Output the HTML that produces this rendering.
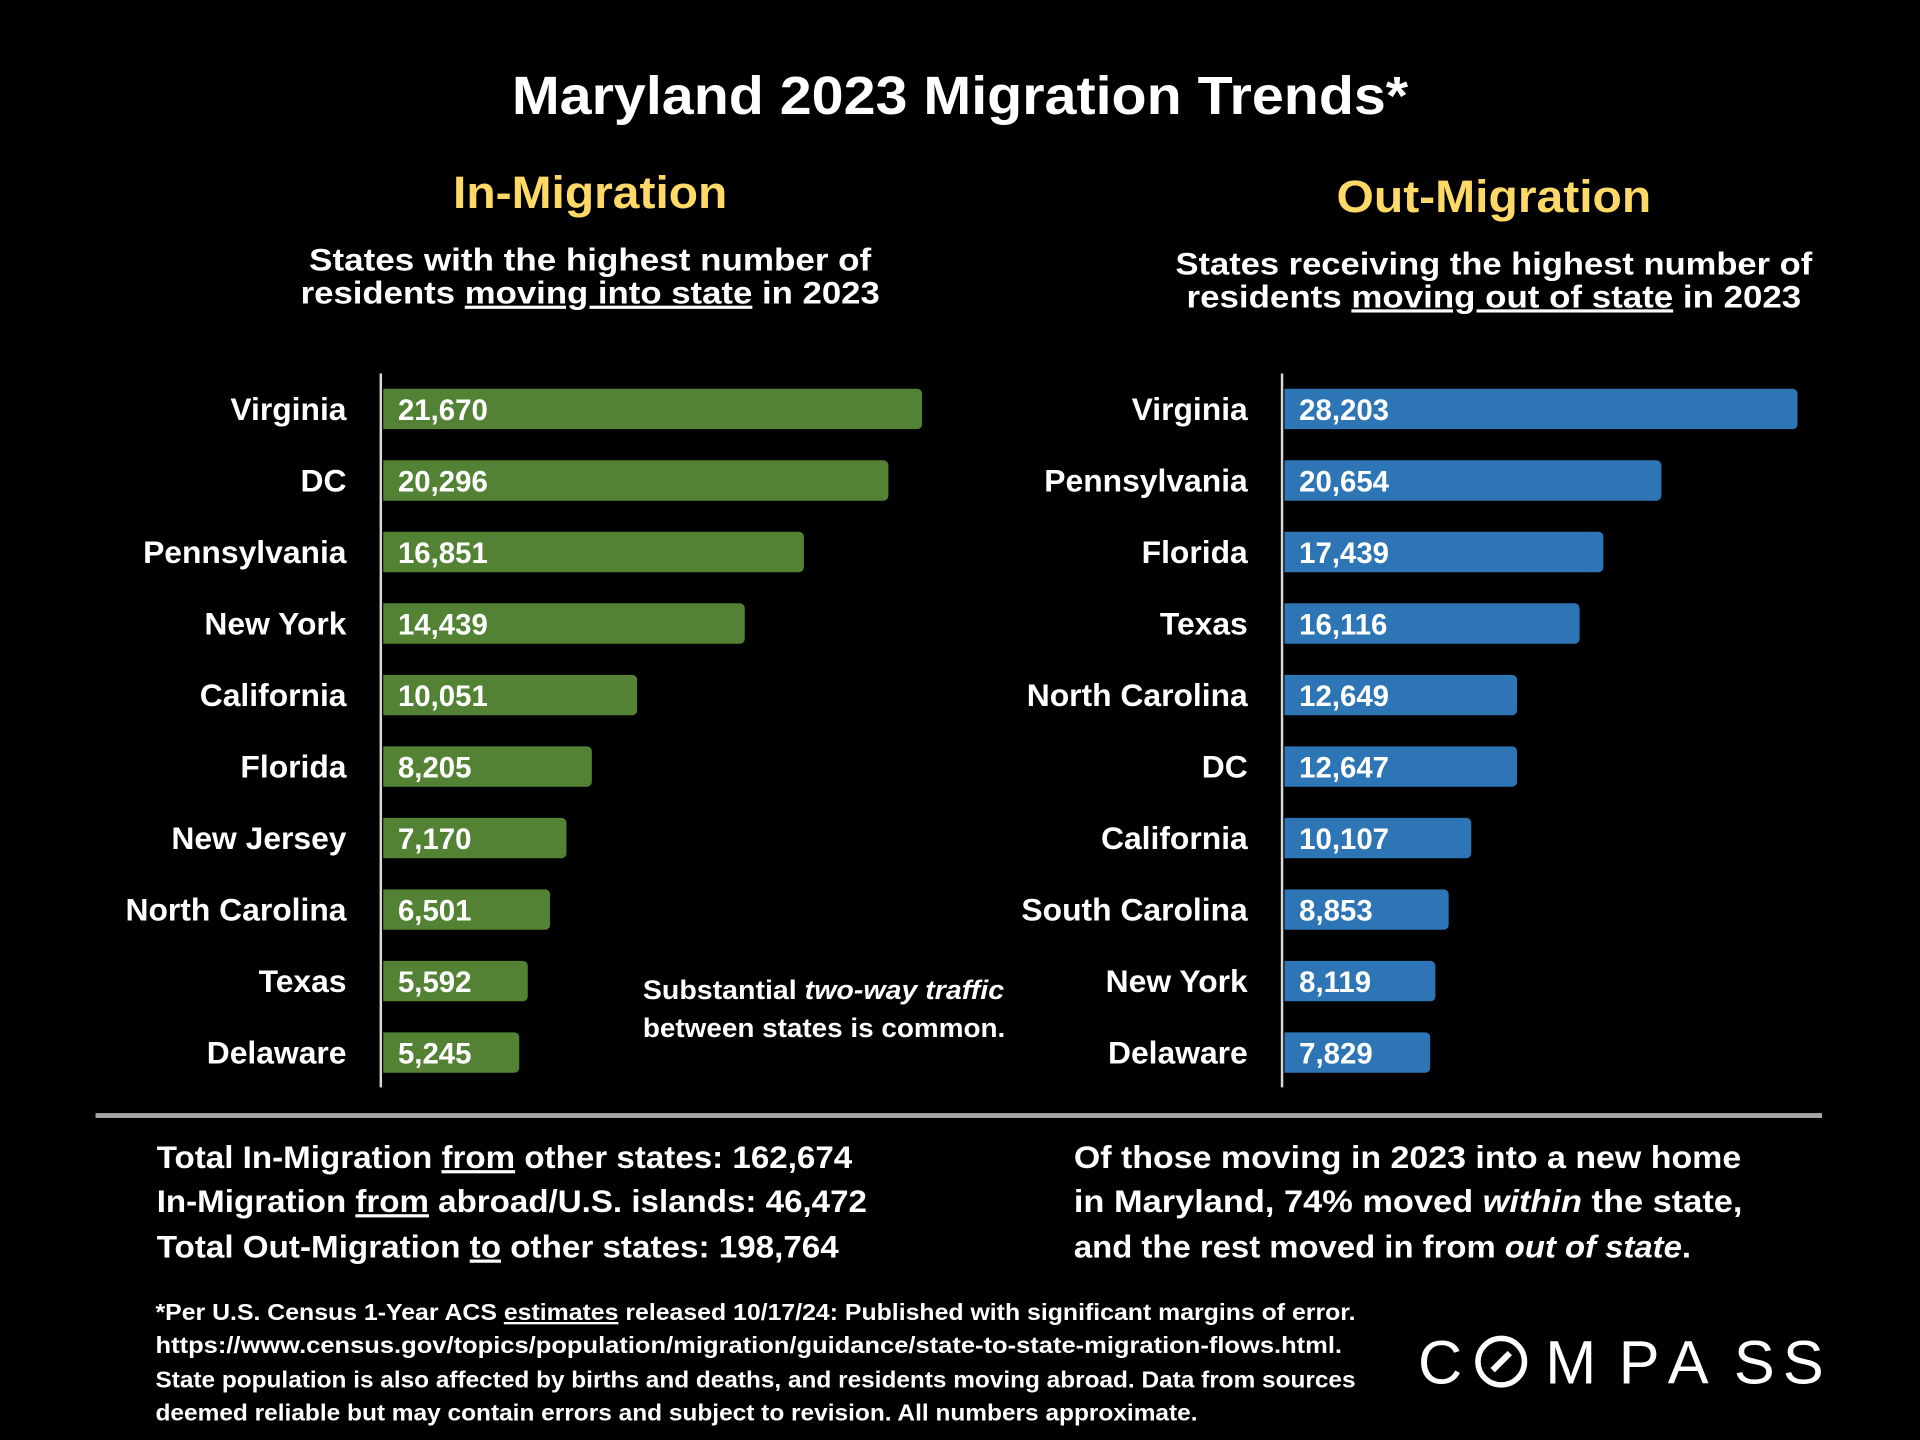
<!DOCTYPE html>
<html><head><meta charset="utf-8"><style>
html,body{margin:0;padding:0;background:#000;width:1920px;height:1440px;overflow:hidden}
svg{display:block}
text{font-family:"Liberation Sans",Arial,sans-serif;font-weight:bold;fill:#fff}
.u{text-decoration:underline}
</style></head><body>
<svg id="chart" width="1920" height="1440" viewBox="0 0 1568 1176" xmlns="http://www.w3.org/2000/svg">
<rect width="1568" height="1176" fill="#000"/>
<text x="784" y="93" text-anchor="middle" font-size="44" textLength="732" lengthAdjust="spacingAndGlyphs">Maryland 2023 Migration Trends*</text>
<text x="482" y="170" text-anchor="middle" font-size="37" style="fill:#ffd966" textLength="224" lengthAdjust="spacingAndGlyphs">In-Migration</text>
<text x="482" y="221" text-anchor="middle" font-size="26" textLength="459" lengthAdjust="spacingAndGlyphs">States with the highest number of</text>
<text x="482" y="248" text-anchor="middle" font-size="26" textLength="473" lengthAdjust="spacingAndGlyphs">residents <tspan class="u">moving into state</tspan> in 2023</text>
<text x="1220" y="173" text-anchor="middle" font-size="37" style="fill:#ffd966" textLength="257" lengthAdjust="spacingAndGlyphs">Out-Migration</text>
<text x="1220" y="224" text-anchor="middle" font-size="26" textLength="520" lengthAdjust="spacingAndGlyphs">States receiving the highest number of</text>
<text x="1220" y="251" text-anchor="middle" font-size="26" textLength="502" lengthAdjust="spacingAndGlyphs">residents <tspan class="u">moving out of state</tspan> in 2023</text>
<g id="left"></g><g id="right"></g>
<text x="525" y="816" font-size="22" textLength="295" lengthAdjust="spacingAndGlyphs">Substantial <tspan font-style="italic">two-way traffic</tspan></text>
<text x="525" y="847" font-size="22" textLength="296" lengthAdjust="spacingAndGlyphs">between states is common.</text>
<rect x="78" y="909" width="1410" height="4" fill="#a6a6a6"/>
<text x="128" y="954" font-size="26" textLength="568" lengthAdjust="spacingAndGlyphs">Total In-Migration <tspan class="u">from</tspan> other states: 162,674</text>
<text x="128" y="990" font-size="26" textLength="580" lengthAdjust="spacingAndGlyphs">In-Migration <tspan class="u">from</tspan> abroad/U.S. islands: 46,472</text>
<text x="128" y="1027" font-size="26" textLength="557" lengthAdjust="spacingAndGlyphs">Total Out-Migration <tspan class="u">to</tspan> other states: 198,764</text>
<text x="877" y="954" font-size="26" textLength="545" lengthAdjust="spacingAndGlyphs">Of those moving in 2023 into a new home</text>
<text x="877" y="990" font-size="26" textLength="546" lengthAdjust="spacingAndGlyphs">in Maryland, 74% moved <tspan font-style="italic">within</tspan> the state,</text>
<text x="877" y="1027" font-size="26" textLength="504" lengthAdjust="spacingAndGlyphs">and the rest moved in from <tspan font-style="italic">out of state</tspan>.</text>
<text x="127" y="1078" font-size="19" textLength="980" lengthAdjust="spacingAndGlyphs">*Per U.S. Census 1-Year ACS <tspan class="u">estimates</tspan> released 10/17/24: Published with significant margins of error.</text>
<text x="127" y="1105" font-size="19" textLength="969" lengthAdjust="spacingAndGlyphs">https://www.census.gov/topics/population/migration/guidance/state-to-state-migration-flows.html.</text>
<text x="127" y="1133" font-size="19" textLength="980" lengthAdjust="spacingAndGlyphs">State population is also affected by births and deaths, and residents moving abroad. Data from sources</text>
<text x="127" y="1160" font-size="19" textLength="851" lengthAdjust="spacingAndGlyphs">deemed reliable but may contain errors and subject to revision. All numbers approximate.</text>
<g>
<text y="1130" font-size="50" style="font-weight:normal"><tspan x="1158">C</tspan><tspan x="1262">M</tspan><tspan x="1322">P</tspan><tspan x="1362">A</tspan><tspan x="1416">S</tspan><tspan x="1456">S</tspan></text>
<circle cx="1226" cy="1112" r="19" fill="none" stroke="#fff" stroke-width="4.5"/>
<line x1="1219" y1="1119" x2="1233" y2="1105" stroke="#fff" stroke-width="5"/>
</g>
</svg>
<script>
const inStates=["Virginia","DC","Pennsylvania","New York","California","Florida","New Jersey","North Carolina","Texas","Delaware"];
const inValues=[21670,20296,16851,14439,10051,8205,7170,6501,5592,5245];
const outStates=["Virginia","Pennsylvania","Florida","Texas","North Carolina","DC","California","South Carolina","New York","Delaware"];
const outValues=[28203,20654,17439,16116,12649,12647,10107,8853,8119,7829];
const NS="http://www.w3.org/2000/svg";
function mk(t,a){const e=document.createElementNS(NS,t);for(const k in a)e.setAttribute(k,a[k]);return e;}
function draw(gid,cats,vals,axisX,origin,k,color,prefix){
  const g=document.getElementById(gid);
  const x=v=>origin+v*k;
  const yc=i=>334+i*58.4;
  const ax=mk('rect',{x:axisX-1,y:305,width:2,height:583,fill:'#d9d9d9'});
  
  
  g.appendChild(ax);
  cats.forEach((c,i)=>{
    const lab=mk('text',{x:axisX-28,y:yc(i)+9,'text-anchor':'end','font-size':26});
    lab.textContent=c;
    
    
    g.appendChild(lab);
    const w=x(vals[i])-(axisX+2);
    const b=mk('path',{d:`M${axisX+2},${yc(i)-16.5}h${w-4}a4,4 0 0 1 4,4v25a4,4 0 0 1 -4,4h${-(w-4)}z`,fill:color});
    
    
    g.appendChild(b);
    const vt=mk('text',{x:axisX+14,y:yc(i)+9,'font-size':24});
    vt.textContent=vals[i].toLocaleString('en-US');
    
    
    g.appendChild(vt);
  });
}
draw('left',inStates,inValues,311,319,0.02003,'#548235','in');
draw('right',outStates,outValues,1047,1052.7,0.014725,'#2e75b6','out');
</script>
</body></html>
